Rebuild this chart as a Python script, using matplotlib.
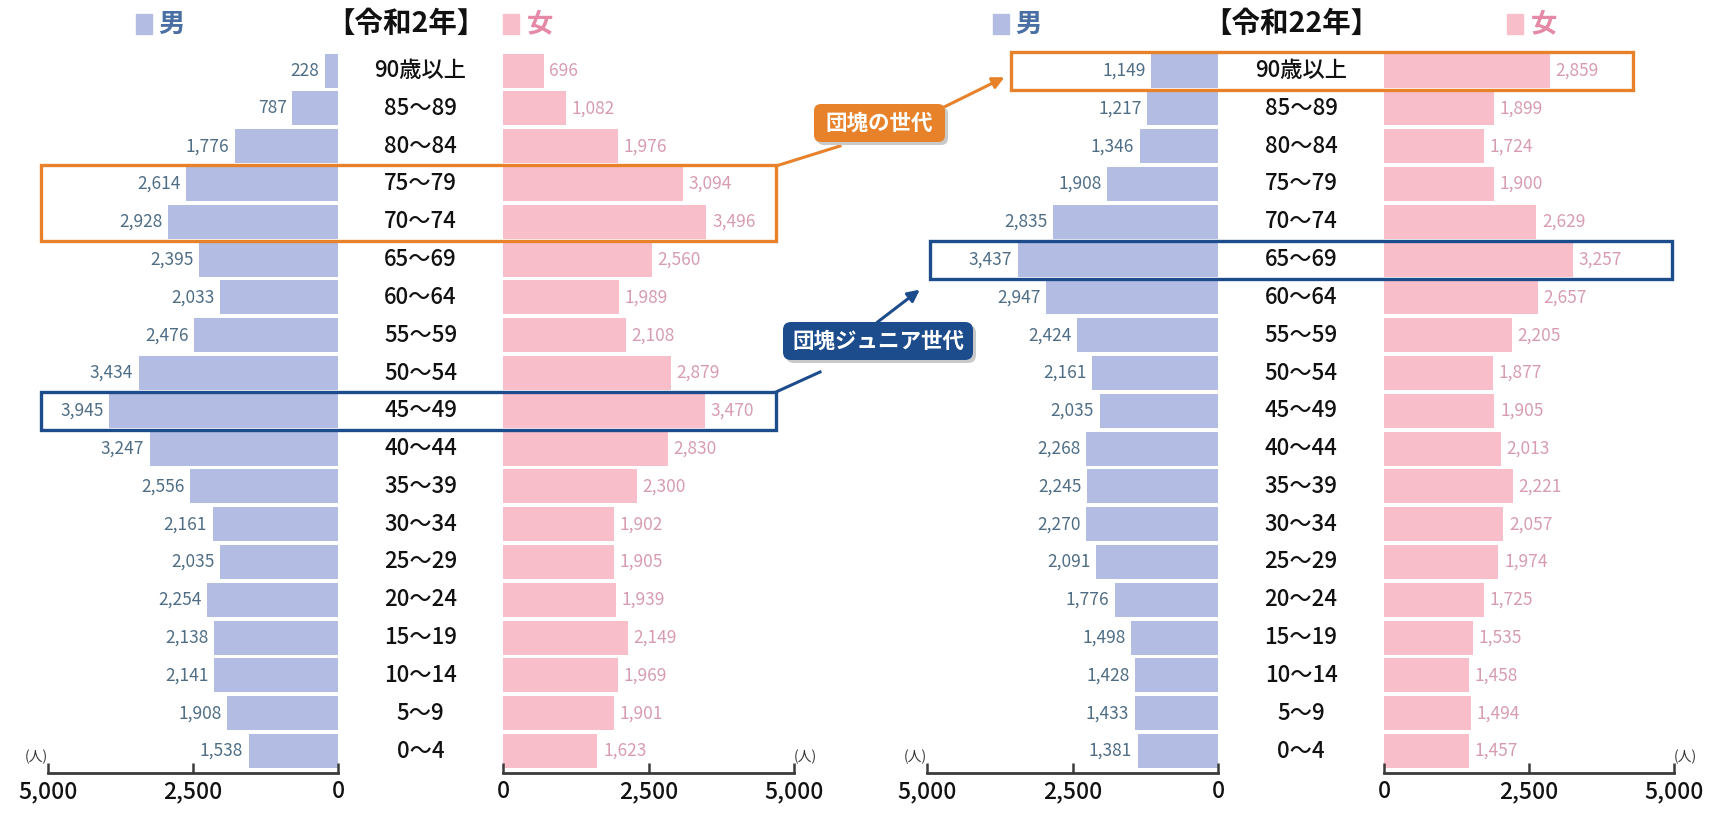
import matplotlib
matplotlib.use("Agg")
import matplotlib.pyplot as plt
from matplotlib.patches import Rectangle, FancyBboxPatch
from matplotlib.transforms import blended_transform_factory

plt.rcParams['font.family'] = ['Noto Sans CJK JP', 'DejaVu Sans']

# ---------------- data (bottom row first) ----------------
age_labels = ['0～4', '5～9', '10～14', '15～19', '20～24', '25～29', '30～34',
              '35～39', '40～44', '45～49', '50～54', '55～59', '60～64',
              '65～69', '70～74', '75～79', '80～84', '85～89', '90歳以上']
male_r2 = [1538, 1908, 2141, 2138, 2254, 2035, 2161, 2556, 3247, 3945,
           3434, 2476, 2033, 2395, 2928, 2614, 1776, 787, 228]
female_r2 = [1623, 1901, 1969, 2149, 1939, 1905, 1902, 2300, 2830, 3470,
             2879, 2108, 1989, 2560, 3496, 3094, 1976, 1082, 696]
male_r22 = [1381, 1433, 1428, 1498, 1776, 2091, 2270, 2245, 2268, 2035,
            2161, 2424, 2947, 3437, 2835, 1908, 1346, 1217, 1149]
female_r22 = [1457, 1494, 1458, 1535, 1725, 1974, 2057, 2221, 2013, 1905,
              1877, 2205, 2657, 3257, 2629, 1900, 1724, 1899, 2859]
titles = ['【令和2年】', '【令和22年】']
tick_vals = [0, 2500, 5000]
tick_labels = ['0', '2,500', '5,000']
unit_label = '(人)'
callout_labels = ['団塊の世代', '団塊ジュニア世代']

W, H = 1719, 815
fig = plt.figure(figsize=(W / 100, H / 100), dpi=100)
fig.patch.set_facecolor('white')

MALE_C = '#b3bde3'
FEMALE_C = '#f8bfca'
MALE_TXT = '#4f6e86'
FEMALE_TXT = '#d79cb2'
ORANGE = '#e8822a'
NAVY = '#1d4c8c'

AX_BOTTOM_PX = 773
AX_TOP_PX = 40
ROW0_PX = 751
ROW_SP = 37.8
ylo = (ROW0_PX - AX_BOTTOM_PX) / ROW_SP
yhi = (ROW0_PX - AX_TOP_PX) / ROW_SP


def make_ax(x0, x1):
    return fig.add_axes([x0 / W, (H - AX_BOTTOM_PX) / H, (x1 - x0) / W,
                         (AX_BOTTOM_PX - AX_TOP_PX) / H])


def style_ax(ax, side):
    for s in ['top', 'left', 'right']:
        ax.spines[s].set_visible(False)
    ax.spines['bottom'].set_color('#3a3a3a')
    ax.spines['bottom'].set_linewidth(2)
    ax.set_ylim(ylo, yhi)
    ax.set_yticks([])
    ax.set_xticks(tick_vals)
    ax.set_xticklabels(tick_labels, fontsize=16.5, fontweight='medium')
    ax.tick_params(axis='x', direction='in', length=7, width=1.8,
                   color='#3a3a3a', pad=5, labelcolor='#111111')
    ax.patch.set_alpha(0)
    if side == 'male':
        ax.set_xlim(5000, 0)
        ax.text(0, 0.012, unit_label, transform=ax.transAxes, ha='right',
                va='bottom', fontsize=10, color='#333333')
    else:
        ax.set_xlim(0, 5000)
        ax.text(1.0, 0.012, unit_label, transform=ax.transAxes, ha='left',
                va='bottom', fontsize=10, color='#333333')


def draw_side(ax, vals, side):
    ys = list(range(len(vals)))
    color = MALE_C if side == 'male' else FEMALE_C
    ax.barh(ys, vals, height=0.9, color=color, edgecolor='none')
    for y, v in zip(ys, vals):
        if side == 'male':
            ax.annotate(f'{v:,}', xy=(v, y), xytext=(-4, 0),
                        textcoords='offset points', ha='right', va='center',
                        fontsize=12.5, color=MALE_TXT)
        else:
            ax.annotate(f'{v:,}', xy=(v, y), xytext=(4, 0),
                        textcoords='offset points', ha='left', va='center',
                        fontsize=12.5, color=FEMALE_TXT)


panels = [
    (48, 338, 503, 794, male_r2, female_r2, titles[0], 406, 136, 503),
    (927, 1218, 1384, 1674, male_r22, female_r22, titles[1], 1291, 993, 1507),
]
male_axes = []
for (mx0, mx1, fx0, fx1, mv, fv, title, tcx, msq, fsq) in panels:
    axm = make_ax(mx0, mx1)
    axf = make_ax(fx0, fx1)
    style_ax(axm, 'male')
    style_ax(axf, 'female')
    draw_side(axm, mv, 'male')
    draw_side(axf, fv, 'female')
    male_axes.append(axm)
    # age labels centered between the two halves
    cx = ((mx1 + fx0) / 2) / W
    tr = blended_transform_factory(fig.transFigure, axm.transData)
    for i, lab in enumerate(age_labels):
        axm.text(cx, i, lab, transform=tr, ha='center', va='center',
                 fontsize=16, fontweight='medium', color='#111111',
                 clip_on=False)
    # header
    fig.text(tcx / W, 1 - 24 / H, title, ha='center', va='center',
             fontsize=20.5, fontweight='bold', color='#111111')
    fig.add_artist(Rectangle((msq / W, 1 - 34 / H), 16 / W, 20 / H,
                             transform=fig.transFigure, color=MALE_C))
    fig.text((msq + 22) / W, 1 - 24 / H, '男', ha='left', va='center',
             fontsize=19, fontweight='bold', color='#4a6fa5')
    fig.add_artist(Rectangle((fsq / W, 1 - 34 / H), 16 / W, 20 / H,
                             transform=fig.transFigure, color=FEMALE_C))
    fig.text((fsq + 24) / W, 1 - 24 / H, '女', ha='left', va='center',
             fontsize=19, fontweight='bold', color='#e58aa6')


# highlight boxes
def hbox(ax, x0, x1, r0, r1, color):
    tr = blended_transform_factory(fig.transFigure, ax.transData)
    rect = Rectangle((x0 / W, r0 - 0.5), (x1 - x0) / W, (r1 - r0 + 1),
                     transform=tr, fill=False, edgecolor=color, linewidth=2.4,
                     clip_on=False, zorder=5)
    fig.add_artist(rect)


hbox(male_axes[0], 41, 776, 14, 15, ORANGE)
hbox(male_axes[0], 41, 776, 9, 9, NAVY)
hbox(male_axes[1], 1011, 1633, 18, 18, ORANGE)
hbox(male_axes[1], 930, 1672, 13, 13, NAVY)

# overlay for callouts (pixel coordinates)
ov = fig.add_axes([0, 0, 1, 1])
ov.set_xlim(0, W)
ov.set_ylim(H, 0)
ov.axis('off')
ov.patch.set_alpha(0)

# orange callout
ov.plot([776, 840], [166, 146], color=ORANGE, lw=2.2, zorder=6)
ov.annotate('', xy=(1007, 76), xytext=(930, 114),
            arrowprops=dict(arrowstyle='-|>,head_length=0.7,head_width=0.35',
                            color=ORANGE, lw=2.2), zorder=6)
for dx, dy, fc, z in [(3, 3, '#c9c9c9', 6), (0, 0, ORANGE, 7)]:
    ov.add_patch(FancyBboxPatch((814 + dx, 104 + dy), 131, 38,
                                boxstyle='round,pad=0,rounding_size=7',
                                fc=fc, ec='none', zorder=z))
ov.text(879.5, 123, callout_labels[0], ha='center', va='center', fontsize=15.5,
        fontweight='bold', color='white', zorder=8)

# navy callout
ov.plot([776, 820], [392, 372], color=NAVY, lw=2.2, zorder=6)
ov.annotate('', xy=(922, 288), xytext=(875, 324),
            arrowprops=dict(arrowstyle='-|>,head_length=0.7,head_width=0.35',
                            color=NAVY, lw=2.2), zorder=6)
for dx, dy, fc, z in [(3, 3, '#c9c9c9', 6), (0, 0, NAVY, 7)]:
    ov.add_patch(FancyBboxPatch((783 + dx, 322 + dy), 190, 38,
                                boxstyle='round,pad=0,rounding_size=8',
                                fc=fc, ec='none', zorder=z))
ov.text(878, 341.5, callout_labels[1], ha='center', va='center', fontsize=15.5,
        fontweight='bold', color='white', zorder=8)

fig.savefig('out.png', dpi=100, facecolor='white')
